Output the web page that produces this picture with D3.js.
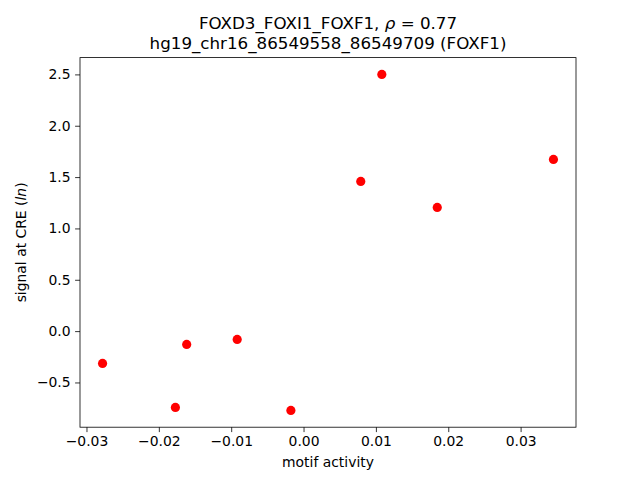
<!DOCTYPE html>
<html><head><meta charset="utf-8">
<script src="https://cdn.jsdelivr.net/npm/d3@7"></script>
<style>body{margin:0;background:#fff}svg{display:block}text{font-family:"DejaVu Sans",sans-serif;fill:#000}</style>
</head><body><svg id="c" width="640" height="480"></svg>
<script>
const motifActivity = [-0.02778, -0.01771, -0.01615, -0.00917, -0.00175, 0.00791, 0.01082, 0.01848, 0.03454];
const signalCRE = [-0.3146, -0.743, -0.1295, -0.0808, -0.772, 1.458, 2.500, 1.205, 1.672];
const xTicks = [-0.03, -0.02, -0.01, 0.00, 0.01, 0.02, 0.03];
const yTicks = [-0.5, 0.0, 0.5, 1.0, 1.5, 2.0, 2.5];
const titleLine1 = "FOXD3_FOXI1_FOXF1, ";
const titleRho = "0.77";
const titleLine2 = "hg19_chr16_86549558_86549709 (FOXF1)";

const svg = d3.select("#c");
const L = 80, R = 576, T = 57.6, B = 427.2;
function pad(arr){const mn=d3.min(arr),mx=d3.max(arr),m=(mx-mn)*0.05;return [mn-m,mx+m];}
const x = d3.scaleLinear().domain(pad(motifActivity)).range([L,R]);
const y = d3.scaleLinear().domain(pad(signalCRE)).range([B,T]);
const fmtMinus = s => s.replace("-", "\u2212");

const xa = svg.append("g").attr("transform",`translate(0,${B})`)
  .call(d3.axisBottom(x).tickValues(xTicks).tickSize(4.9).tickPadding(4.5).tickFormat(d=>fmtMinus(d3.format(".2f")(d))));
const ya = svg.append("g").attr("transform",`translate(${L},0)`)
  .call(d3.axisLeft(y).tickValues(yTicks).tickSize(4.9).tickPadding(4.5).tickFormat(d=>fmtMinus(d3.format(".1f")(d))));
[xa,ya].forEach(a=>{a.select(".domain").remove();a.selectAll("text").style("font-size","13.9px").style("font-family","DejaVu Sans");a.selectAll("line").attr("stroke","#000").attr("stroke-width",0.8);});

svg.append("g").selectAll("circle").data(motifActivity).join("circle")
  .attr("cx",(d,i)=>x(d)).attr("cy",(d,i)=>y(signalCRE[i])).attr("r",4.6).attr("fill","#ff0000");

svg.append("rect").attr("x",L).attr("y",T).attr("width",R-L).attr("height",B-T)
  .attr("fill","none").attr("stroke","#000").attr("stroke-width",0.8);

const t1 = svg.append("text").attr("x",(L+R)/2).attr("y",29).attr("text-anchor","middle").style("font-size","16.7px");
t1.append("tspan").text(titleLine1);
t1.append("tspan").style("font-style","italic").text("\u03C1");
t1.append("tspan").text(" = " + titleRho);
svg.append("text").attr("x",(L+R)/2).attr("y",49).attr("text-anchor","middle").style("font-size","16.7px").text(titleLine2);

svg.append("text").attr("x",(L+R)/2).attr("y",467).attr("text-anchor","middle").style("font-size","13.9px").text("motif activity");
const yl = svg.append("text").attr("transform",`translate(26,${(T+B)/2}) rotate(-90)`).attr("text-anchor","middle").style("font-size","13.9px");
yl.append("tspan").text("signal at CRE (");
yl.append("tspan").style("font-style","italic").text("ln");
yl.append("tspan").text(")");
</script></body></html>
